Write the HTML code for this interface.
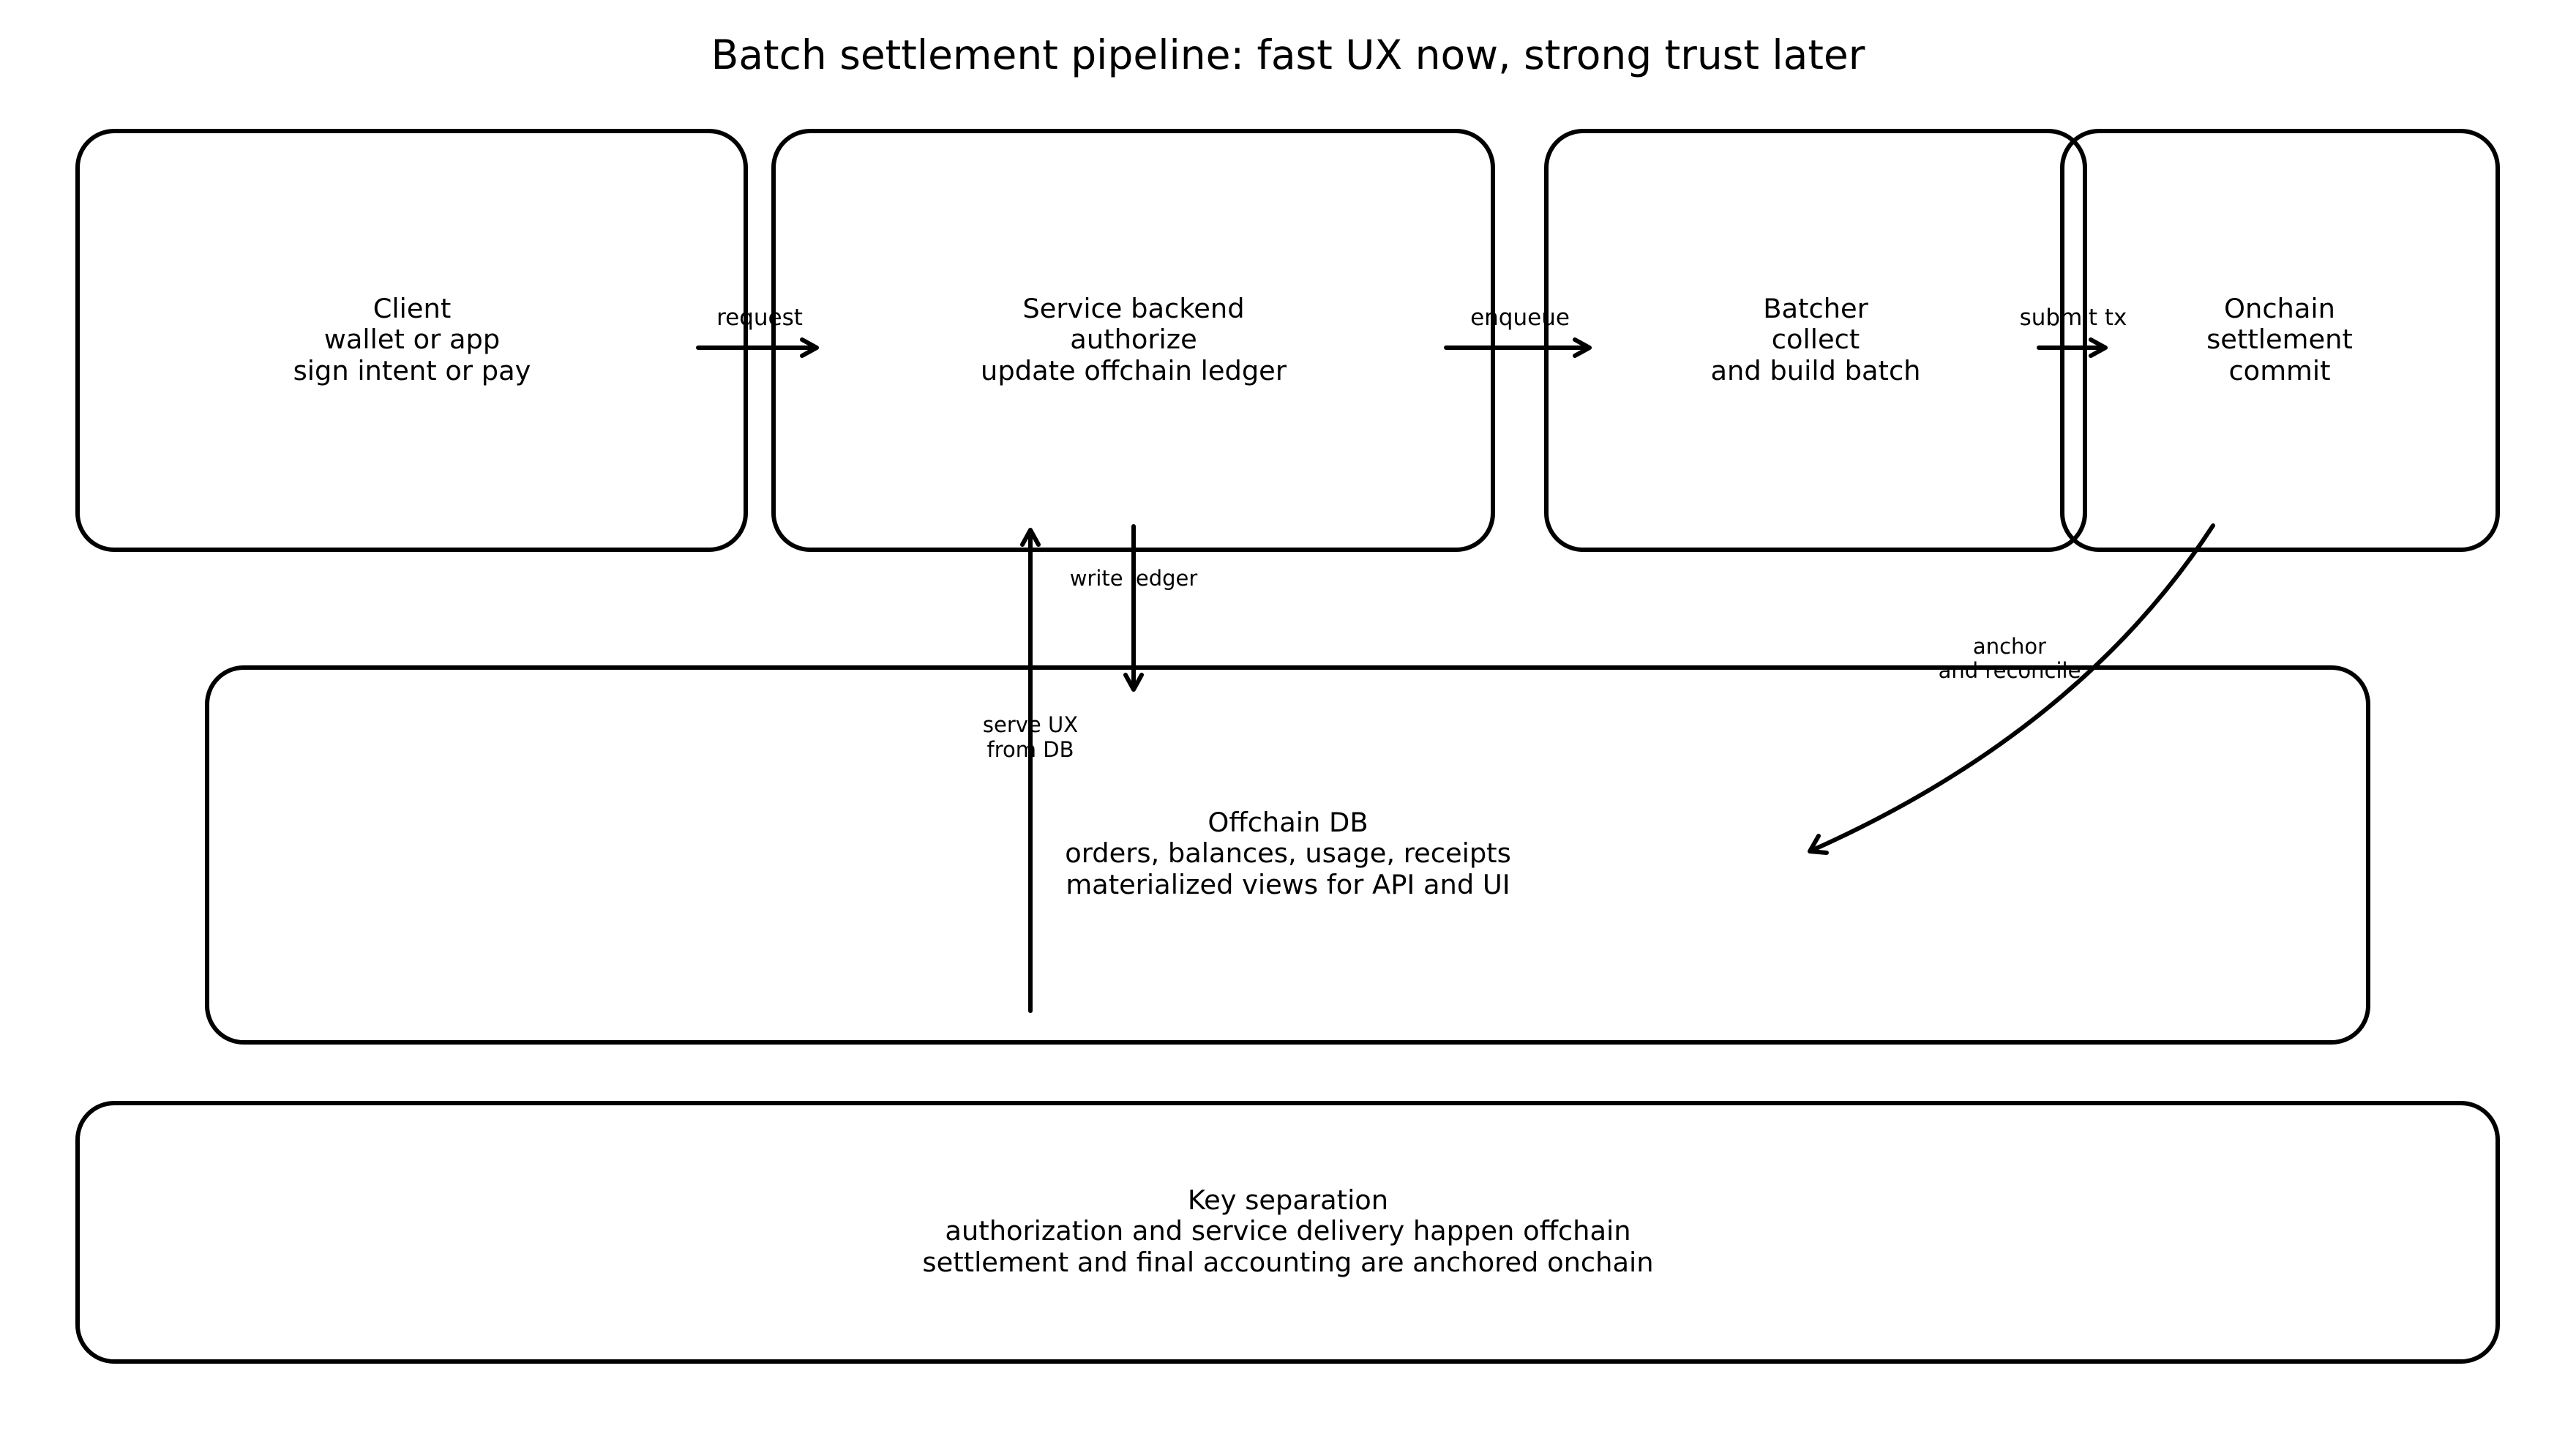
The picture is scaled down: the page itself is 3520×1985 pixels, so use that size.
<!DOCTYPE html>
<html><head><style>html,body{margin:0;padding:0;background:#fff}</style></head>
<body>
<svg width="3520" height="1980" xmlns="http://www.w3.org/2000/svg" font-family="DejaVu Sans, Liberation Sans, sans-serif" fill="none" stroke="#000">
<rect width="3520" height="1980" fill="#fff" stroke="none"/>
<g stroke-width="6">
<rect x="106" y="179" width="913" height="572" rx="50"/>
<rect x="1057" y="179" width="983" height="572" rx="50"/>
<rect x="2113" y="179" width="736" height="572" rx="50"/>
<rect x="2818" y="179" width="595" height="572" rx="50"/>
<rect x="283" y="912" width="2953" height="512" rx="50"/>
<rect x="106" y="1507" width="3307" height="353" rx="50"/>
</g>
<g stroke-width="6" stroke-linecap="round" stroke-linejoin="round">
<path d="M954 475 H1116 M1096 464 L1116 475 L1096 486"/>
<path d="M1976 475 H2172 M2152 464 L2172 475 L2152 486"/>
<path d="M2786 475 H2877 M2857 464 L2877 475 L2857 486"/>
<path d="M1549 719 V942 M1538 922 L1549 942 L1560 922"/>
<path d="M1408 1381 V724 M1397 744 L1408 724 L1419 744"/>
<path d="M3024 718 Q2840 1000 2473 1163 M2485 1142 L2473 1163 L2496 1165"/>
</g>
<g fill="#000" stroke="none" text-anchor="middle">
<text x="1760" y="94" font-size="55">Batch settlement pipeline: fast UX now, strong trust later</text>
<g font-size="36.8">
<text x="563" y="434">Client</text><text x="563" y="476">wallet or app</text><text x="563" y="519">sign intent or pay</text>
<text x="1549" y="434">Service backend</text><text x="1549" y="476">authorize</text><text x="1549" y="519">update offchain ledger</text>
<text x="2481" y="434">Batcher</text><text x="2481" y="476">collect</text><text x="2481" y="519">and build batch</text>
<text x="3115" y="434">Onchain</text><text x="3115" y="476">settlement</text><text x="3115" y="519">commit</text>
<text x="1760" y="1136">Offchain DB</text><text x="1760" y="1178">orders, balances, usage, receipts</text><text x="1760" y="1221">materialized views for API and UI</text>
<text x="1760" y="1652">Key separation</text><text x="1760" y="1694">authorization and service delivery happen offchain</text><text x="1760" y="1737">settlement and final accounting are anchored onchain</text>
</g>
<g font-size="31">
<text x="1038" y="444">request</text>
<text x="2077" y="444">enqueue</text>
<text x="2833" y="444">submit tx</text>
</g>
<g font-size="29">
<text x="1549" y="800">write ledger</text>
<text x="1408" y="1000">serve UX</text><text x="1408" y="1034">from DB</text>
<text x="2746" y="893">anchor</text><text x="2746" y="926">and reconcile</text>
</g>
</g>
</svg>
</body></html>
